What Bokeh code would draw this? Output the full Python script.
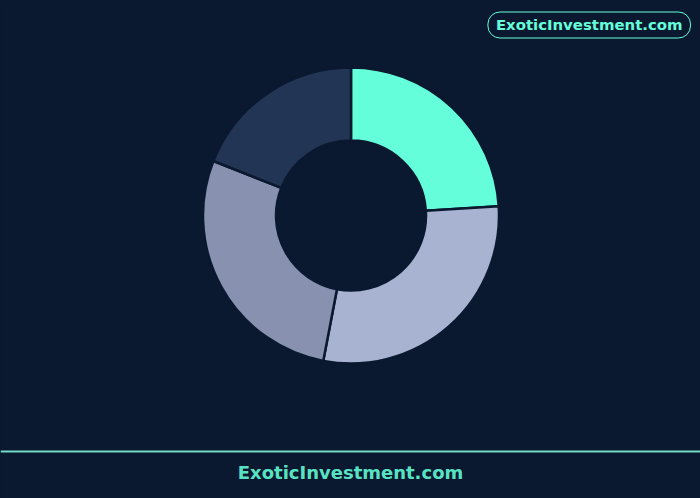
from bokeh.embed import file_html
from bokeh.models import ColumnDataSource, GlobalInlineStyleSheet, Label, Span
from bokeh.plotting import figure
from bokeh.resources import INLINE
from math import pi

# slice shares (%), clockwise from 12 o'clock
labels = ["Slice A", "Slice B", "Slice C", "Slice D"]
values = [24, 29, 28, 19]
colors = ["#64ffda", "#a8b2d1", "#8892b0", "#233554"]

brand = "ExoticInvestment.com"
BG = "#0a192f"
TEAL = "#64ffda"

W, H = 700, 498

# clockwise wedges starting at top -> bokeh anticlockwise angles
total = sum(values)
starts, ends = [], []
acc = 0.0
for v in values:
    a1 = acc / total * 2 * pi
    acc += v
    a2 = acc / total * 2 * pi
    starts.append(pi / 2 - a2)
    ends.append(pi / 2 - a1)

source = ColumnDataSource(
    data=dict(label=labels, value=values, color=colors, start=starts, end=ends)
)

page_css = GlobalInlineStyleSheet(
    css=f"html, body {{ margin: 0; padding: 0; background: {BG}; overflow: hidden; }}"
)

p = figure(
    width=W,
    height=H,
    x_range=(0, W),
    y_range=(0, H),
    output_backend="svg",
    toolbar_location=None,
    tools="",
    min_border=0,
    stylesheets=[page_css],
)
p.axis.visible = False
p.grid.visible = False
p.outline_line_color = None
p.background_fill_color = BG
p.border_fill_color = BG

# donut
p.annular_wedge(
    x=350.5,
    y=H - 215,
    inner_radius=75,
    outer_radius=148,
    start_angle="start",
    end_angle="end",
    fill_color="color",
    line_color=BG,
    line_width=2.5,
    source=source,
)

# footer rule + brand
p.add_layout(Span(location=H - 451, dimension="width", line_color="#7eeedb",
                  line_alpha=0.9, line_width=2))
p.add_layout(Label(x=350, y=H - 472, text=brand, text_align="center",
                   text_baseline="middle", text_color=TEAL, text_alpha=0.9,
                   text_font="DejaVu Sans", text_font_style="bold",
                   text_font_size="18px"))

# top-right badge
p.add_layout(Label(x=588.7, y=H - 24.5, text=brand, text_align="center",
                   text_baseline="middle", text_color=TEAL,
                   text_font="DejaVu Sans", text_font_style="bold",
                   text_font_size="14.9px",
                   background_fill_color=BG,
                   border_line_color=TEAL, border_line_width=1,
                   border_radius=12,
                   padding=dict(left=8, right=8, top=4, bottom=4)))

open("out.html", "w").write(file_html(p, INLINE))
